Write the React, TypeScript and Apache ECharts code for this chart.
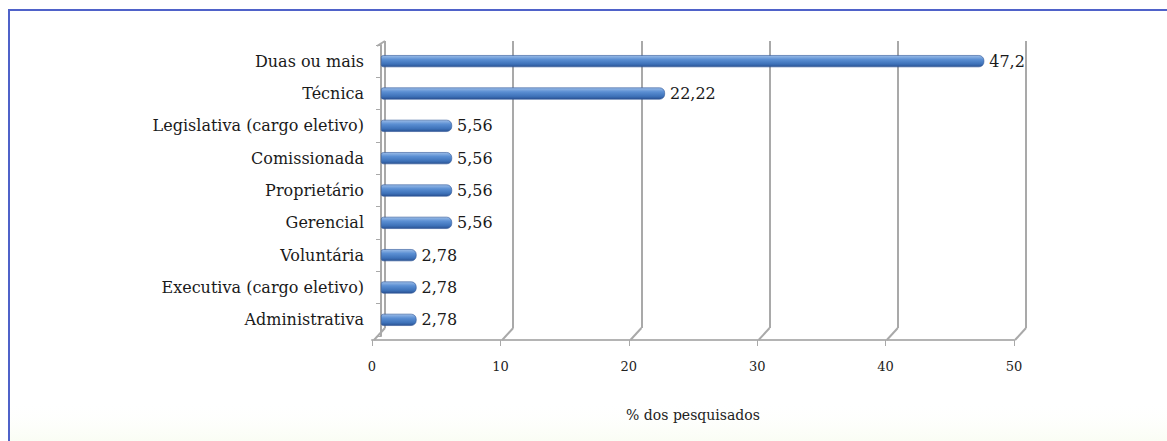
import React, { useEffect, useRef } from "react";
import * as echarts from "echarts";

const categories = [
  "Duas ou mais",
  "Técnica",
  "Legislativa (cargo eletivo)",
  "Comissionada",
  "Proprietário",
  "Gerencial",
  "Voluntária",
  "Executiva (cargo eletivo)",
  "Administrativa",
];
const values = [47.2, 22.22, 5.56, 5.56, 5.56, 5.56, 2.78, 2.78, 2.78];
const xTicks = [0, 10, 20, 30, 40, 50];
const axisTitle = "% dos pesquisados";

const fmt = (v: number) => String(v).replace(".", ",");

export default function App() {
  const ref = useRef<HTMLDivElement>(null);
  useEffect(() => {
    if (!ref.current) return;
    const chart = echarts.init(ref.current, undefined, { renderer: "svg" });
    const gray = "#a9a9a9";
    const option: any = {
      animation: false,
      backgroundColor: "#ffffff",
      graphic: [
        {
          type: "rect",
          shape: { x: 9, y: 400, width: 1160, height: 41 },
          style: {
            fill: new echarts.graphic.LinearGradient(0, 0, 0, 1, [
              { offset: 0, color: "rgba(255,255,255,0)" },
              { offset: 1, color: "#fafdf4" },
            ]),
          },
          silent: true,
          z: -10,
        },
        {
          type: "line",
          shape: { x1: 8, y1: 10, x2: 1167, y2: 10 },
          style: { stroke: "#4f62c9", lineWidth: 2 },
          silent: true,
        },
        {
          type: "line",
          shape: { x1: 9, y1: 10, x2: 9, y2: 441 },
          style: { stroke: "#4f62c9", lineWidth: 2 },
          silent: true,
        },
      ],
      grid: [
        { left: 385, right: 141, top: 41, bottom: 113 },
        { left: 381, right: 147, top: 45, bottom: 105 },
        { left: 372, right: 153, top: 45, bottom: 101 },
      ],
      xAxis: [
        {
          gridIndex: 0,
          type: "value",
          min: 0,
          max: 50,
          interval: 10,
          axisLine: { show: false },
          axisTick: { show: false },
          axisLabel: { show: false },
          splitLine: { show: true, lineStyle: { color: gray, width: 2 } },
        },
        { gridIndex: 1, type: "value", min: 0, max: 50, show: false },
        {
          gridIndex: 2,
          type: "value",
          min: 0,
          max: 50,
          interval: 10,
          axisLine: { show: true, lineStyle: { color: "#b4b4b4", width: 2 } },
          axisTick: { show: true, length: 6, lineStyle: { color: gray, width: 1 } },
          axisLabel: {
            margin: 20,
            fontFamily: "DejaVu Serif",
            fontSize: 13,
            color: "#222",
            formatter: (v: number) => (xTicks.includes(v) ? String(v) : ""),
          },
          splitLine: { show: false },
          name: axisTitle,
          nameLocation: "middle",
          nameGap: 68,
          nameTextStyle: { fontFamily: "DejaVu Serif", fontSize: 14, color: "#222" },
        },
      ],
      yAxis: [
        { gridIndex: 0, type: "value", min: 0, max: 1, show: false },
        {
          gridIndex: 1,
          type: "category",
          data: categories,
          inverse: true,
          offset: 4,
          axisLine: { show: true, lineStyle: { color: gray, width: 2 } },
          axisTick: { show: true, length: 5, lineStyle: { color: gray } },
          axisLabel: {
            margin: 13,
            fontFamily: "DejaVu Serif",
            fontSize: 16,
            color: "#1a1a1a",
          },
          splitLine: { show: false },
        },
        { gridIndex: 2, type: "value", show: false },
      ],
      series: [
        {
          type: "custom",
          xAxisIndex: 0,
          yAxisIndex: 0,
          silent: true,
          data: xTicks.map((v) => [v]),
          renderItem: (params: any, api: any) => {
            const v = api.value(0);
            const p = api.coord([v, 0]);
            const children: any[] = [
              {
                type: "line",
                shape: { x1: p[0], y1: p[1], x2: p[0] - 11, y2: p[1] + 12 },
                style: { stroke: gray, lineWidth: 2 },
              },
            ];
            if (v === 0) {
              const t = api.coord([0, 1]);
              children.push({
                type: "line",
                shape: { x1: t[0], y1: t[1], x2: t[0] - 8, y2: t[1] + 5 },
                style: { stroke: gray, lineWidth: 2 },
              });
            }
            return { type: "group", children };
          },
        },
        {
          type: "bar",
          xAxisIndex: 1,
          yAxisIndex: 1,
          data: values,
          barWidth: 12,
          itemStyle: {
            color: new echarts.graphic.LinearGradient(0, 0, 0, 1, [
              { offset: 0, color: "#9cbde8" },
              { offset: 0.35, color: "#5b8fd3" },
              { offset: 0.75, color: "#3e72b9" },
              { offset: 1, color: "#2a5292" },
            ]),
            borderColor: "#2f5597",
            borderWidth: 0.6,
            borderRadius: [2, 5, 5, 2],
          },
          label: {
            show: true,
            position: "right",
            distance: 5,
            fontFamily: "DejaVu Serif",
            fontSize: 16,
            color: "#1a1a1a",
            formatter: (p: any) => fmt(p.value),
          },
        },
      ],
    };
    chart.setOption(option);
    return () => chart.dispose();
  }, []);
  return (
    <div
      ref={ref}
      style={{ position: "fixed", left: 0, top: 0, width: 1167, height: 441 }}
    />
  );
}
